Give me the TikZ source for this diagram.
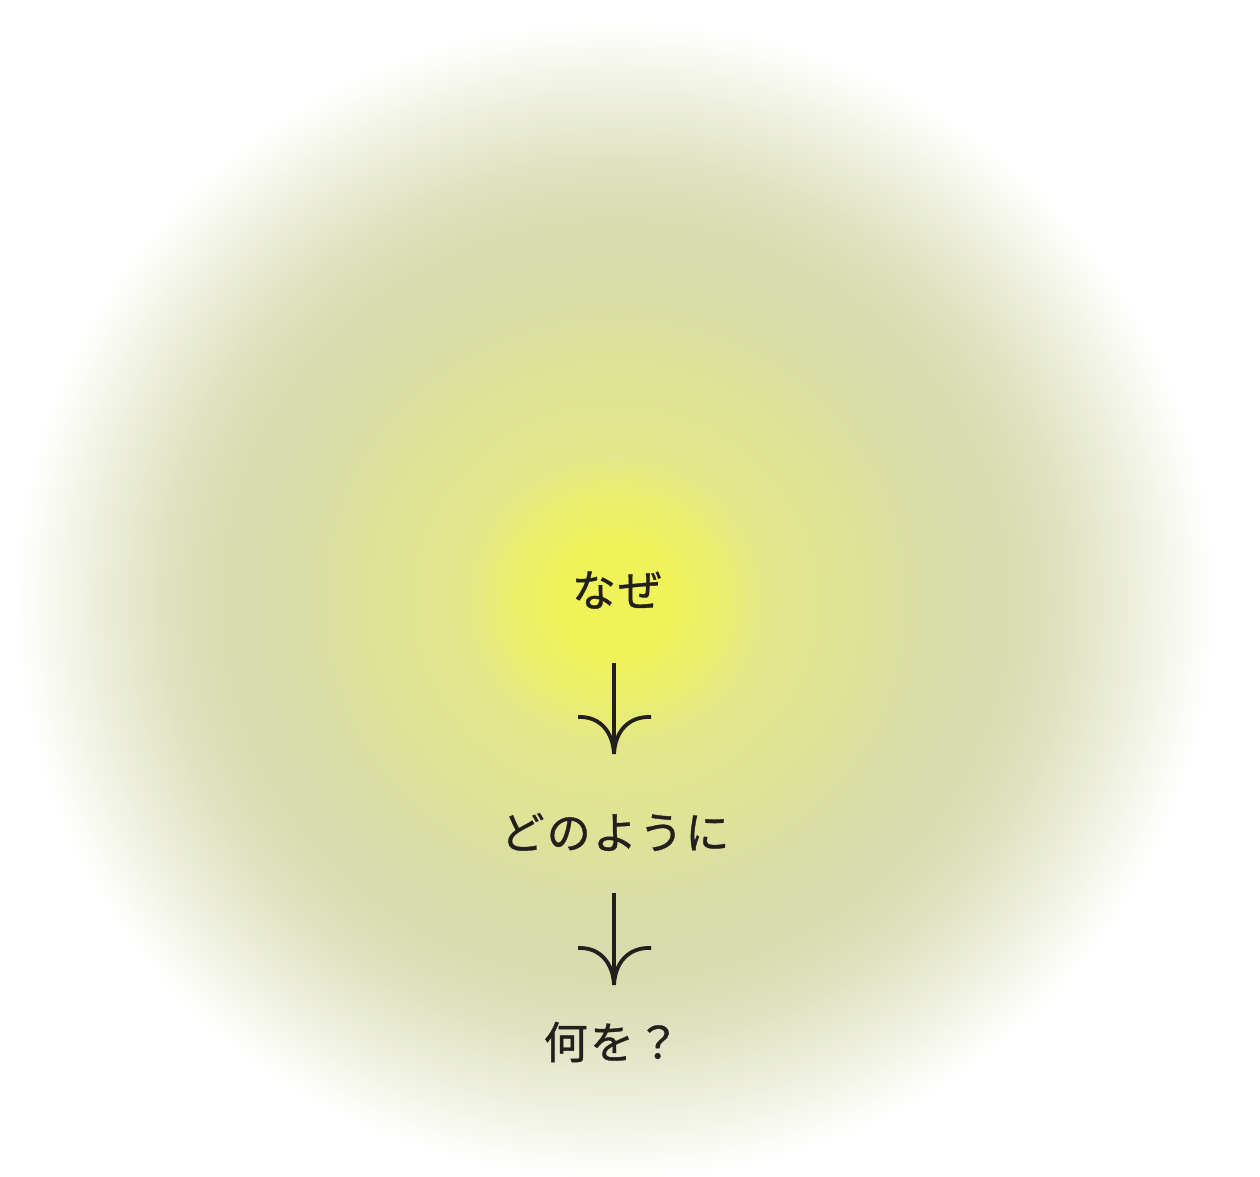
\documentclass[tikz,border=0pt]{standalone}
\usepackage{fontspec}
\newfontfamily\jp[LetterSpace=5,FakeBold=0.8]{Noto Sans CJK JP}
\definecolor{ink}{HTML}{231F1C}
\definecolor{core}{HTML}{F0F25A}
\definecolor{coreedge}{HTML}{EAEE70}
\definecolor{midyel}{HTML}{E3E78A}
\definecolor{midgrn}{HTML}{DEE396}
\definecolor{ringa}{HTML}{D9DDA6}
\definecolor{ringb}{HTML}{D8DCB0}
\definecolor{fade0}{HTML}{DFE2C0}
\definecolor{fade1}{HTML}{EBEDD8}
\definecolor{fade2}{HTML}{F6F7EE}
\pgfdeclareradialshading{blob}{\pgfpoint{0bp}{0bp}}{%
  color(0bp)=(core);
  color(2.5bp)=(core);
  color(4.6bp)=(coreedge);
  color(6.25bp)=(midyel);
  color(10bp)=(midgrn);
  color(12.9bp)=(ringa);
  color(16.25bp)=(ringb);
  color(18.75bp)=(fade0);
  color(21.25bp)=(fade1);
  color(23.3bp)=(fade2);
  color(25bp)=(white);
  color(50bp)=(white)}
\tikzset{
  label text/.style={font=\jp\fontsize{44}{52}\selectfont, text=ink, inner sep=0pt, anchor=center},
  flow/.style={draw=ink, line width=3.8pt, line cap=butt}
}
\begin{document}
\begin{tikzpicture}[x=1pt,y=-1pt]
\useasboundingbox (0,0) rectangle (1260,1176);
\fill[white] (0,0) rectangle (1260,1176);
\shade[shading=blob] (615,600) ellipse [x radius=600, y radius=580];
\node[label text] (q1) at (617,590) {なぜ};
\node[label text] (q2) at (615,832) {どのように};
\node[label text] (q3) at (612,1042) {何を？};
% arrow 1
\coordinate (a1s) at (614,663);
\coordinate (a1t) at (614,754);
\draw[flow] (a1s) -- (a1t);
\draw[flow] (578,717) .. controls (600,716) and (613,732) .. (a1t);
\draw[flow] (651,717) .. controls (628,716) and (615,732) .. (a1t);
% arrow 2
\coordinate (a2s) at (614,893);
\coordinate (a2t) at (614,985);
\draw[flow] (a2s) -- (a2t);
\draw[flow] (578,948) .. controls (600,947) and (613,963) .. (a2t);
\draw[flow] (651,948) .. controls (628,947) and (615,963) .. (a2t);
\end{tikzpicture}
\end{document}
